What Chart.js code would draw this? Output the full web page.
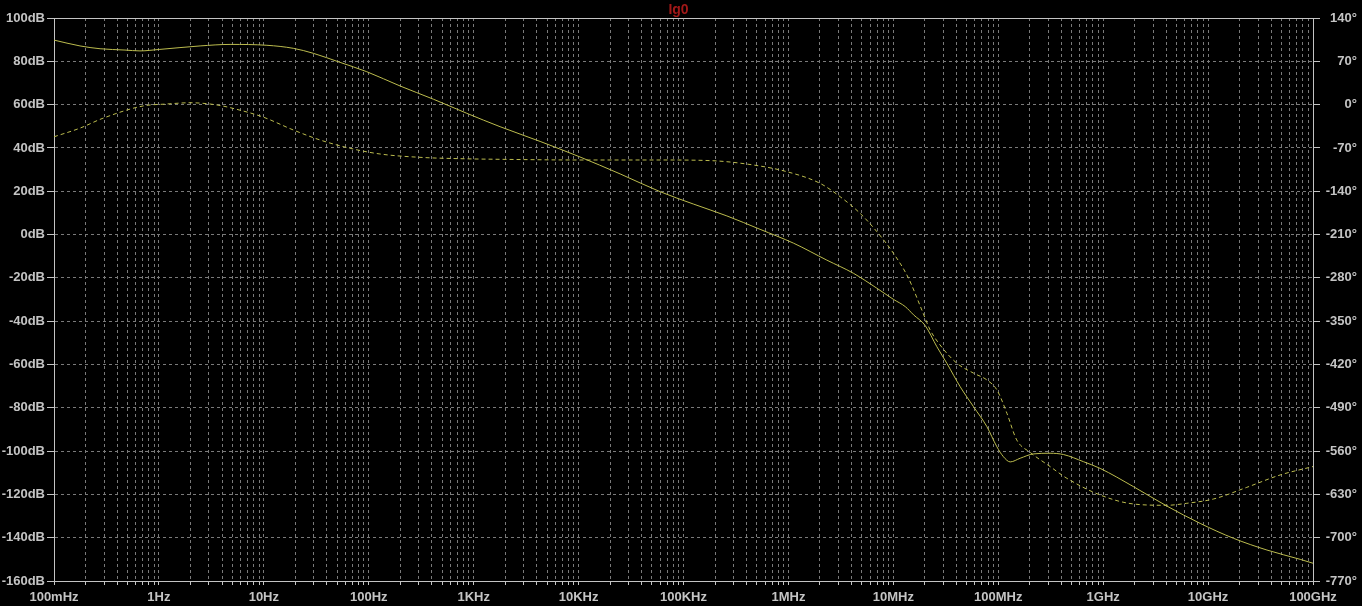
<!DOCTYPE html>
<html lang="en">
<head>
  <meta charset="UTF-8">
  <title>Ig0 - Bode plot</title>
  <script src="https://cdn.jsdelivr.net/npm/chart.js"></script>
  <style>
    body {
      margin: 0;
      padding: 0;
      background: #000;
    }
    #wrap {
      width: 1362px;
      height: 606px;
    }
  </style>
</head>
<body>
  <div id="wrap">
    <canvas id="bode" width="1362" height="606"></canvas>
  </div>
  <script>
    // Magnitude trace (solid), frequency in Hz, value in dB
    const magFreq = [0.1, 0.177, 0.275, 0.475, 0.66, 1.02, 2.47, 4.77, 10.7, 19.1, 29.6, 53.3, 95.7,
      199, 413, 859, 1786, 4300, 10100, 24900, 59800, 124000, 259000, 537000, 1.12e6, 2.32e6,
      4.17e6, 6.97e6, 1.0e7, 1.30e7, 1.56e7, 2.01e7, 2.60e7, 3.24e7, 4.34e7, 5.81e7, 7.79e7,
      9.7e7, 1.12e8, 1.30e8, 1.62e8, 2.17e8, 3.12e8, 4.19e8, 6.49e8, 9.36e8, 1.94e9, 4.05e9,
      8.41e9, 1.75e10, 3.64e10, 7.55e10, 1.0e11];
    const magDb = [89.8, 87.1, 85.8, 85.2, 84.8, 85.5, 87.1, 87.8, 87.4, 86.0, 83.7, 79.5, 75.2,
      68.6, 62.5, 56.0, 49.8, 43.0, 36.0, 28.0, 19.8, 14.1, 8.6, 2.4, -4.0, -11.8,
      -17.9, -24.8, -29.9, -33.3, -37.1, -42.0, -51.8, -59.5, -70.3, -79.5, -88.7,
      -98.0, -102.6, -105.0, -103.3, -101.3, -101.0, -101.6, -104.9, -108.0, -116.4, -125.4,
      -133.4, -140.3, -145.7, -150.0, -151.8];

    // Phase trace (dashed), frequency in Hz, value in degrees
    const phaseFreq = [0.1, 0.177, 0.293, 0.705, 1.19, 1.98, 3.58, 5.93, 9.8, 19.1, 34.4, 66.4, 128,
      308, 742, 1786, 10100, 59800, 179000, 464000, 966000, 2.0e6, 3.11e6, 4.82e6, 6.97e6,
      1.0e7, 1.39e7, 1.87e7, 2.24e7, 2.79e7, 4.03e7, 5.81e7, 7.79e7, 9.7e7, 1.21e8, 1.50e8,
      2.01e8, 3.12e8, 4.51e8, 9.36e8, 1.94e9, 4.05e9, 6.27e9, 1.13e10, 2.34e10, 4.87e10, 1.0e11];
    const phaseDeg = [-52, -38, -22, -2.2, 1, 3, -0.6, -9, -20, -41, -57.2, -70.6, -79.8,
      -85.2, -87.4, -88.4, -89.5, -89.5, -90.5, -97.6, -108.4, -127.2, -148.8, -175.7, -205.4,
      -240, -280, -332, -364, -388.5, -418, -434, -445, -461, -499, -542,
      -562, -585, -604, -631, -645.5, -647.6, -644.4, -637.4, -618.6, -598.6, -585];

    // Axis tick labels
    const xTickLabels = ['100mHz', '1Hz', '10Hz', '100Hz', '1KHz', '10KHz', '100KHz',
      '1MHz', '10MHz', '100MHz', '1GHz', '10GHz', '100GHz'];
    const yLeftTicks = [-160, -140, -120, -100, -80, -60, -40, -20, 0, 20, 40, 60, 80, 100];
    const yRightTicks = [-770, -700, -630, -560, -490, -420, -350, -280, -210, -140, -70, 0, 70, 140];

    const traceColor = '#bcbc4e';
    const gridColor = '#7a7a7a';
    const axisColor = '#c4c4c4';
    const labelFont = { family: "'Liberation Sans', Arial, sans-serif", size: 13, weight: 'bold' };

    // every 1..9 x 10^n position from 100mHz to 100GHz
    const xTicks = [];
    for (let e = -1; e <= 11; e++) {
      for (let m = 1; m <= 9; m++) {
        const v = Number((m * Math.pow(10, e)).toPrecision(12));
        if (v > 1e11) break;
        xTicks.push({ value: v, decade: m === 1 ? e + 1 : -1 });
      }
    }

    // closes the frame on top
    const framePlugin = {
      id: 'frame',
      afterDraw(chart) {
        const a = chart.chartArea;
        const ctx = chart.ctx;
        ctx.save();
        ctx.strokeStyle = axisColor;
        ctx.lineWidth = 1;
        ctx.beginPath();
        ctx.moveTo(a.left, Math.round(a.top) + 0.5);
        ctx.lineTo(a.right, Math.round(a.top) + 0.5);
        ctx.stroke();
        ctx.restore();
      }
    };

    const ctx = document.getElementById('bode').getContext('2d');
    new Chart(ctx, {
      type: 'line',
      data: {
        datasets: [{
          label: 'Ig0 magnitude',
          data: magFreq.map((f, i) => ({ x: f, y: magDb[i] })),
          yAxisID: 'y',
          borderColor: traceColor,
          borderWidth: 1,
          pointRadius: 0,
          fill: false,
          cubicInterpolationMode: 'monotone'
        }, {
          label: 'Ig0 phase',
          data: phaseFreq.map((f, i) => ({ x: f, y: phaseDeg[i] })),
          yAxisID: 'y1',
          borderColor: traceColor,
          borderWidth: 1,
          borderDash: [4, 3],
          pointRadius: 0,
          fill: false,
          cubicInterpolationMode: 'monotone'
        }]
      },
      options: {
        responsive: false,
        animation: false,
        layout: { padding: { left: 0, right: 5, top: 0, bottom: 0 } },
        plugins: {
          legend: { display: false },
          tooltip: { enabled: false },
          title: {
            display: true,
            text: 'Ig0',
            color: '#a01818',
            font: { family: "'Liberation Sans', Arial, sans-serif", size: 14, lineHeight: 1 },
            padding: { top: 3, bottom: 1 }
          }
        },
        scales: {
          x: {
            type: 'logarithmic',
            min: 0.1,
            max: 1e11,
            afterBuildTicks: s => { s.ticks = xTicks.map(t => ({ value: t.value })); },
            afterFit: s => { s.height = 25; },
            ticks: {
              autoSkip: false,
              maxRotation: 0,
              color: axisColor,
              font: labelFont,
              padding: 5,
              callback: (v, i) => xTicks[i].decade >= 0 ? xTickLabels[xTicks[i].decade] : ''
            },
            grid: {
              color: gridColor,
              tickColor: axisColor,
              tickLength: 4
            },
            border: { display: true, color: axisColor, width: 1, dash: [3, 3] }
          },
          y: {
            position: 'left',
            min: -160,
            max: 100,
            afterBuildTicks: s => { s.ticks = yLeftTicks.map(v => ({ value: v })); },
            afterFit: s => { s.width = 54; },
            ticks: {
              color: axisColor,
              font: labelFont,
              padding: 2,
              callback: v => v + 'dB'
            },
            grid: {
              color: gridColor,
              tickColor: axisColor,
              tickLength: 7
            },
            border: { display: true, color: axisColor, width: 1, dash: [3, 3] }
          },
          y1: {
            position: 'right',
            min: -770,
            max: 140,
            afterBuildTicks: s => { s.ticks = yRightTicks.map(v => ({ value: v })); },
            afterFit: s => { s.width = 44; },
            ticks: {
              color: axisColor,
              font: labelFont,
              padding: 2,
              crossAlign: 'far',
              callback: v => v + '°'
            },
            grid: {
              drawOnChartArea: false,
              tickColor: axisColor,
              tickLength: 7
            },
            border: { display: true, color: axisColor, width: 1 }
          }
        }
      },
      plugins: [framePlugin]
    });
  </script>
</body>
</html>
